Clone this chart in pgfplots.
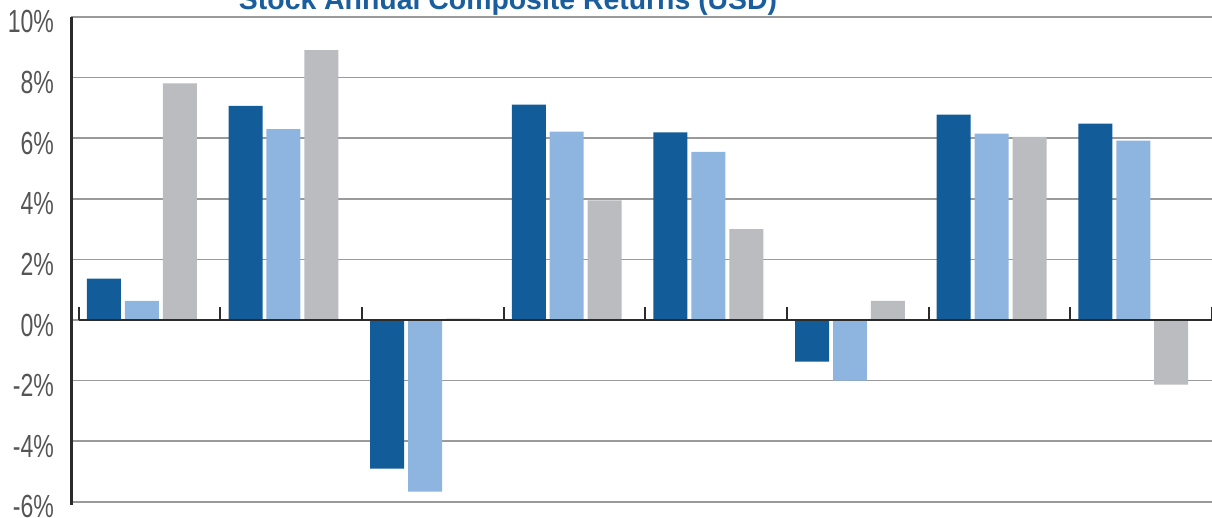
\documentclass[border=0pt]{standalone}
\usepackage{pgfplots}
\pgfplotsset{compat=1.18}
\usepackage{fontspec}
\setmainfont{Liberation Sans}
\newfontfamily\labfont[FakeStretch=0.72]{Liberation Sans}

\definecolor{cdark}{HTML}{115C99}
\definecolor{clight}{HTML}{8DB5E0}
\definecolor{cgray}{HTML}{BBBCC0}
\definecolor{cgrid}{HTML}{9A9A9A}
\definecolor{caxis}{HTML}{2B2B2B}
\definecolor{ctitle}{HTML}{1A5E9E}

\begin{document}
\begin{tikzpicture}
\begin{axis}[
    x=70.8pt, y=15.15pt,
    xmin=-0.5, xmax=7.556,
    ymin=-6, ymax=10,
    axis line style={draw=none},
    xtick=\empty,
    ytick={-6,-4,...,10},
    yticklabels={-6\%,-4\%,-2\%,0\%,2\%,4\%,6\%,8\%,10\%},
    yticklabel style={font=\labfont\fontsize{16}{16}\selectfont, text=caxis!80, xshift=-5pt, yshift=-2.5pt},
    major tick length=0pt,
    ymajorgrids,
    major grid style={cgrid, line width=0.8pt},
    clip=false,
]
% group order: dark blue, light blue, gray
\addplot[ybar, bar width=0.24, bar shift=-0.268, fill=cdark, draw=none]
    coordinates {(0,1.37) (1,7.07) (2,-4.90) (3,7.11) (4,6.19) (5,-1.37) (6,6.78) (7,6.48)};
\addplot[ybar, bar width=0.24, bar shift=0, fill=clight, draw=none]
    coordinates {(0,0.63) (1,6.30) (2,-5.66) (3,6.22) (4,5.55) (5,-2.00) (6,6.15) (7,5.92)};
\addplot[ybar, bar width=0.24, bar shift=0.268, fill=cgray, draw=none]
    coordinates {(0,7.81) (1,8.91) (2,0.05) (3,3.95) (4,3.00) (5,0.63) (6,6.04) (7,-2.13)};

% axis lines and category ticks
\draw[caxis, line width=1.5pt] (axis cs:-0.5,-6.1) -- (axis cs:-0.5,10);
\draw[caxis, line width=1pt] (axis cs:-0.445,0) -- (axis cs:7.556,0);
\pgfplotsinvokeforeach{-0.445,0.555,1.555,2.555,3.555,4.555,5.555,6.555,7.555}{
    \draw[caxis, line width=1pt] (axis cs:#1,0) -- ++(0pt,6.5pt);
}

\node[anchor=base, font=\bfseries\fontsize{14.2}{14.2}\selectfont, text=ctitle]
    at (axis cs:2.586,10.26) {Stock Annual Composite Returns (USD)};

\coordinate (bl) at (axis cs:-1.0014,-6.53);
\coordinate (tr) at (axis cs:7.556,10.56);
\end{axis}
\pgfresetboundingbox
\useasboundingbox (bl) rectangle (tr);
\end{tikzpicture}
\end{document}
